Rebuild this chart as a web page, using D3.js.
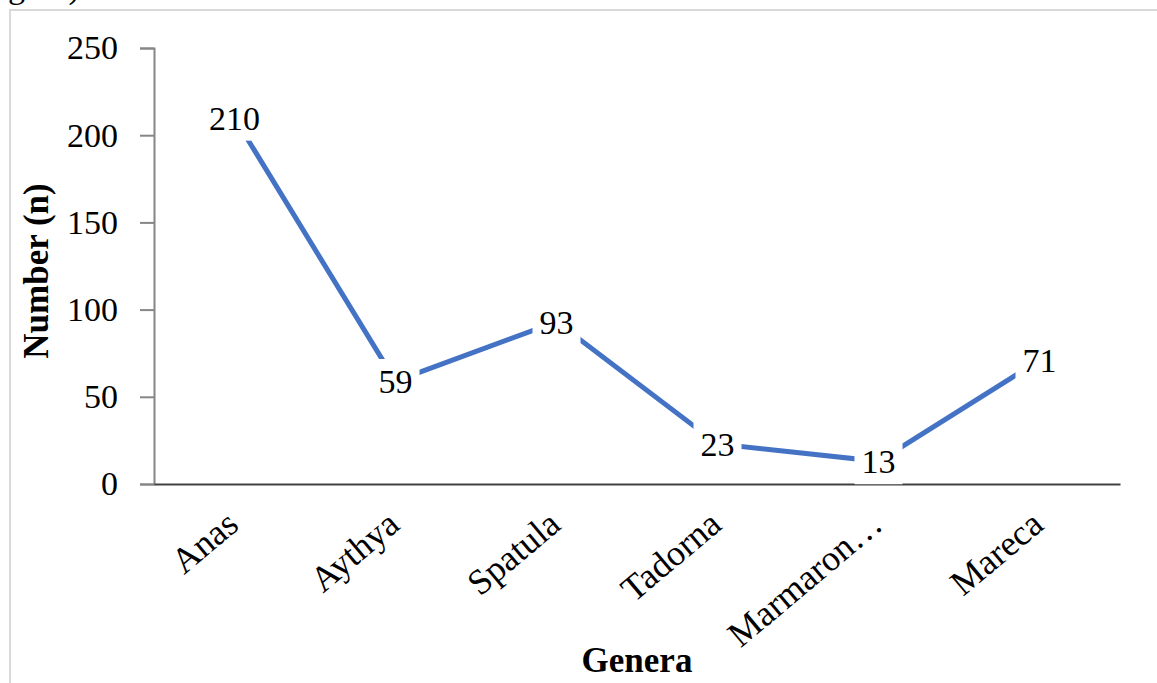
<!DOCTYPE html>
<html lang="en">
<head>
    <meta charset="UTF-8">
    <title>Genera</title>
    <script src="https://cdn.jsdelivr.net/npm/d3@7"></script>
    <style>
        body { margin: 0; background: #fff; }
        text { font-family: "Liberation Serif", "Times New Roman", serif; fill: #000; }
    </style>
</head>
<body>
<svg id="chart" width="1157" height="683"></svg>
</body>
<script>
    const genera = ["Anas", "Aythya", "Spatula", "Tadorna", "Marmaron\u2026", "Mareca"];
    const counts = [210, 59, 93, 23, 13, 71];
    const yTicks = [0, 50, 100, 150, 200, 250];

    const svg = d3.select('#chart');
    const plotLeft = 154, plotRight = 1120, plotTop = 48, plotBottom = 484;

    // frame (cut off at right and bottom in the original)
    svg.append("rect")
        .attr("x", 10).attr("y", 10)
        .attr("width", 1200).attr("height", 700)
        .attr("fill", "none").attr("stroke", "#d9d9d9").attr("stroke-width", 2);

    // bit of caption text from above, clipped by page edge
    svg.append("text")
        .attr("x", 8).attr("y", -2)
        .style("font-size", "34px")
        .text("gure)");

    const x = d3.scalePoint().domain(genera).range([plotLeft, plotRight]).padding(0.5);
    const y = d3.scaleLinear().domain([0, 250]).range([plotBottom, plotTop]);

    // y axis
    const yAxis = svg.append("g")
        .attr("transform", `translate(${plotLeft},0)`)
        .call(d3.axisLeft(y).tickValues(yTicks).tickSize(14).tickPadding(22));
    yAxis.select(".domain").attr("stroke", "#868686").attr("stroke-width", 2);
    yAxis.selectAll(".tick line").attr("stroke", "#868686").attr("stroke-width", 2);
    yAxis.selectAll(".tick text")
        .style("font-family", '"Liberation Serif", serif')
        .style("font-size", "34px")
        .attr("fill", "#000");

    // x axis (no ticks)
    const xAxis = svg.append("g")
        .attr("transform", `translate(0,${plotBottom})`)
        .call(d3.axisBottom(x).tickSize(0).tickFormat(""));
    xAxis.select(".domain").attr("stroke", "#404040").attr("stroke-width", 2);

    // category labels, rotated
    svg.append("g").selectAll("text")
        .data(genera)
        .join("text")
        .attr("transform", d => `translate(${x(d) - 2},${plotBottom + 34}) rotate(-40)`)
        .attr("text-anchor", "end")
        .attr("dy", "0.35em")
        .style("font-size", "36px")
        .text(d => d);

    // line
    const line = d3.line()
        .x((d, i) => x(genera[i]))
        .y(d => y(d));
    svg.append("path")
        .datum(counts)
        .attr("d", line)
        .attr("fill", "none")
        .attr("stroke", "#4472C4")
        .attr("stroke-width", 5);

    // data labels with white boxes
    const labels = svg.append("g").selectAll("g")
        .data(counts)
        .join("g")
        .attr("transform", (d, i) => `translate(${x(genera[i])},${y(d)})`);
    labels.append("text")
        .attr("text-anchor", "middle")
        .attr("dy", "0.35em")
        .style("font-size", "34px")
        .text(d => d);
    labels.each(function () {
        const g = d3.select(this);
        const b = g.select("text").node().getBBox();
        g.insert("rect", "text")
            .attr("x", b.x - 7).attr("y", b.y - 4)
            .attr("width", b.width + 14).attr("height", b.height + 8)
            .attr("fill", "#fff");
    });

    // axis titles
    svg.append("text")
        .attr("transform", `translate(48,${(plotTop + plotBottom) / 2 + 5}) rotate(-90)`)
        .attr("text-anchor", "middle")
        .style("font-size", "35px").style("font-weight", "bold")
        .text("Number (n)");
    svg.append("text")
        .attr("x", (plotLeft + plotRight) / 2).attr("y", 672)
        .attr("text-anchor", "middle")
        .style("font-size", "35px").style("font-weight", "bold")
        .text("Genera");
</script>
</html>
